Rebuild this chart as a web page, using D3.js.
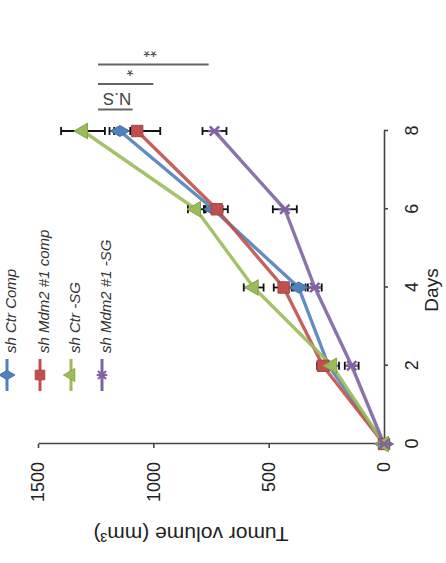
<!DOCTYPE html>
<html><head><meta charset="utf-8">
<script src="https://cdn.jsdelivr.net/npm/d3@7"></script>
<style>html,body{margin:0;padding:0;background:#fff;overflow:hidden}</style>
</head><body><svg id="c" width="446" height="563"></svg>
<script>
// ---- data ----
const days = [0, 2, 4, 6, 8];
const seriesNames = ["sh Ctr Comp", "sh Mdm2 #1 comp", "sh Ctr -SG", "sh Mdm2 #1 -SG"];
const ctrComp = [0, 240, 370, 740, 1145];
const ctrCompErr = [0, 20, 30, 40, 45];
const mdm2Comp = [0, 265, 435, 725, 1070];
const mdm2CompErr = [0, 25, 43, 48, 100];
const ctrSG = [0, 225, 565, 815, 1305];
const ctrSGErr = [0, 30, 43, 35, 95];
const mdm2SG = [0, 140, 300, 430, 735];
const mdm2SGErr = [0, 30, 30, 52, 52];
const colors = ["#4F81BD", "#C0504D", "#9BBB59", "#8064A2"];
const volumeTicks = [0, 500, 1000, 1500];
const dayTicks = [0, 2, 4, 6, 8];
const sigLabels = ["N.S", "*", "**"];
const sigLineDays = [8.55, 9.2, 9.7];
const sigFrom = [1240, 1240, 1240];
const sigTo = [1090, 1000, 760];
const sigLabelDays = [8.97, 9.71, 10.2];
const sigLabelVolumes = [1157, 1101, 1014];

const series = [
  {name: seriesNames[0], values: ctrComp, err: ctrCompErr, color: colors[0], shape: "diamond"},
  {name: seriesNames[1], values: mdm2Comp, err: mdm2CompErr, color: colors[1], shape: "square"},
  {name: seriesNames[2], values: ctrSG, err: ctrSGErr, color: colors[2], shape: "triangle"},
  {name: seriesNames[3], values: mdm2SG, err: mdm2SGErr, color: colors[3], shape: "star"}
];

// ---- drawing ----
const font = "'Liberation Sans', Arial, sans-serif";
const svg = d3.select("#c");
svg.append("rect").attr("width", 446).attr("height", 563).attr("fill", "#fff");
// chart drawn in its natural orientation, then rotated 90° counter-clockwise
const g = svg.append("g").attr("transform", "translate(0,563) rotate(-90)");

const x = d3.scaleLinear().domain([0, 8]).range([119, 432]);
const y = d3.scaleLinear().domain([0, 1500]).range([384, 38]);

const ax = g.append("g").attr("transform", `translate(0,${y(0)})`)
  .call(d3.axisBottom(x).tickValues(dayTicks).tickSize(4).tickSizeOuter(0).tickPadding(17).tickFormat(d3.format("d")));
const ay = g.append("g").attr("transform", `translate(${x(0)},0)`)
  .call(d3.axisLeft(y).tickValues(volumeTicks).tickSize(4).tickSizeOuter(0).tickPadding(14).tickFormat(d3.format("d")));
[ax, ay].forEach(a => {
  a.select(".domain").attr("stroke", "#444").attr("stroke-width", 1.6);
  a.selectAll(".tick line").attr("stroke", "#444").attr("stroke-width", 1.6);
  a.selectAll(".tick text").attr("font-family", font).attr("font-size", 18).attr("fill", "#222");
});

g.append("text").attr("x", 273).attr("y", 438).attr("text-anchor", "middle")
  .attr("font-family", font).attr("font-size", 19).attr("fill", "#222").text("Days");
g.append("text").attr("transform", "translate(36,191) rotate(-90)").attr("text-anchor", "middle")
  .attr("font-family", font).attr("font-size", 21).attr("fill", "#222")
  .text("Tumor volume (mm³)");

const shapeType = {
  diamond: d3.symbolDiamond,
  square: d3.symbolSquare,
  triangle: d3.symbolTriangle,
  star: {draw(ctx, size) {
    const r = Math.sqrt(size) * 0.55;
    const d = r * 0.75;
    ctx.moveTo(-d, -d); ctx.lineTo(d, d);
    ctx.moveTo(-d, d); ctx.lineTo(d, -d);
    ctx.moveTo(0, -r); ctx.lineTo(0, r);
  }}
};
const shapeSize = {diamond: 105, square: 130, triangle: 105, star: 130};

function marker(sel, s) {
  const p = sel.append("path").attr("d", d3.symbol().type(shapeType[s.shape]).size(shapeSize[s.shape])());
  if (s.shape === "star") p.attr("fill", "none").attr("stroke", s.color).attr("stroke-width", 2.6);
  else p.attr("fill", s.color).attr("stroke", d3.color(s.color).darker(0.4)).attr("stroke-width", 1);
  return p;
}

const line = d3.line().x(d => x(d.day)).y(d => y(d.v));
series.forEach(s => {
  const pts = days.map((d, i) => ({day: d, v: s.values[i], e: s.err[i]}));
  g.append("path").datum(pts).attr("d", line).attr("fill", "none")
    .attr("stroke", s.color).attr("stroke-width", 3.4).attr("stroke-linejoin", "round").attr("opacity", 0.9);
});
series.forEach(s => {
  const pts = days.map((d, i) => ({day: d, v: s.values[i], e: s.err[i]})).filter(p => p.e > 0);
  const eb = g.append("g").attr("stroke", "#111").attr("stroke-width", 1.8);
  pts.forEach(p => {
    eb.append("line").attr("x1", x(p.day)).attr("x2", x(p.day)).attr("y1", y(p.v - p.e)).attr("y2", y(p.v + p.e));
    [p.v - p.e, p.v + p.e].forEach(v => {
      eb.append("line").attr("x1", x(p.day) - 4).attr("x2", x(p.day) + 4).attr("y1", y(v)).attr("y2", y(v));
    });
  });
});
series.forEach(s => {
  days.forEach((d, i) => {
    const m = g.append("g").attr("transform", `translate(${x(d)},${y(s.values[i])})`);
    marker(m, s);
  });
});

// significance annotations
sigLabels.forEach((lab, i) => {
  g.append("line").attr("x1", x(sigLineDays[i])).attr("x2", x(sigLineDays[i]))
    .attr("y1", y(sigFrom[i])).attr("y2", y(sigTo[i]))
    .attr("stroke", "#666").attr("stroke-width", 2);
  g.append("text")
    .attr("transform", `translate(${x(sigLabelDays[i])},${y(sigLabelVolumes[i])}) rotate(-90)`)
    .attr("text-anchor", "middle").attr("font-family", font).attr("font-size", 17).attr("fill", "#444")
    .text(lab);
});

// legend
const legendPos = [7, 40, 71, 102];
series.forEach((s, i) => {
  const lg = g.append("g").attr("transform", `translate(188,${legendPos[i]})`);
  lg.append("line").attr("x1", -16).attr("x2", 16).attr("y1", 0).attr("y2", 0)
    .attr("stroke", s.color).attr("stroke-width", 3);
  const m = lg.append("g").attr("transform", "scale(0.85)");
  marker(m, s);
  lg.append("text").attr("x", 22).attr("y", 9).attr("font-family", font).attr("font-style", "italic")
    .attr("font-size", 15).attr("fill", "#333").text(s.name);
});
</script>
</body></html>
